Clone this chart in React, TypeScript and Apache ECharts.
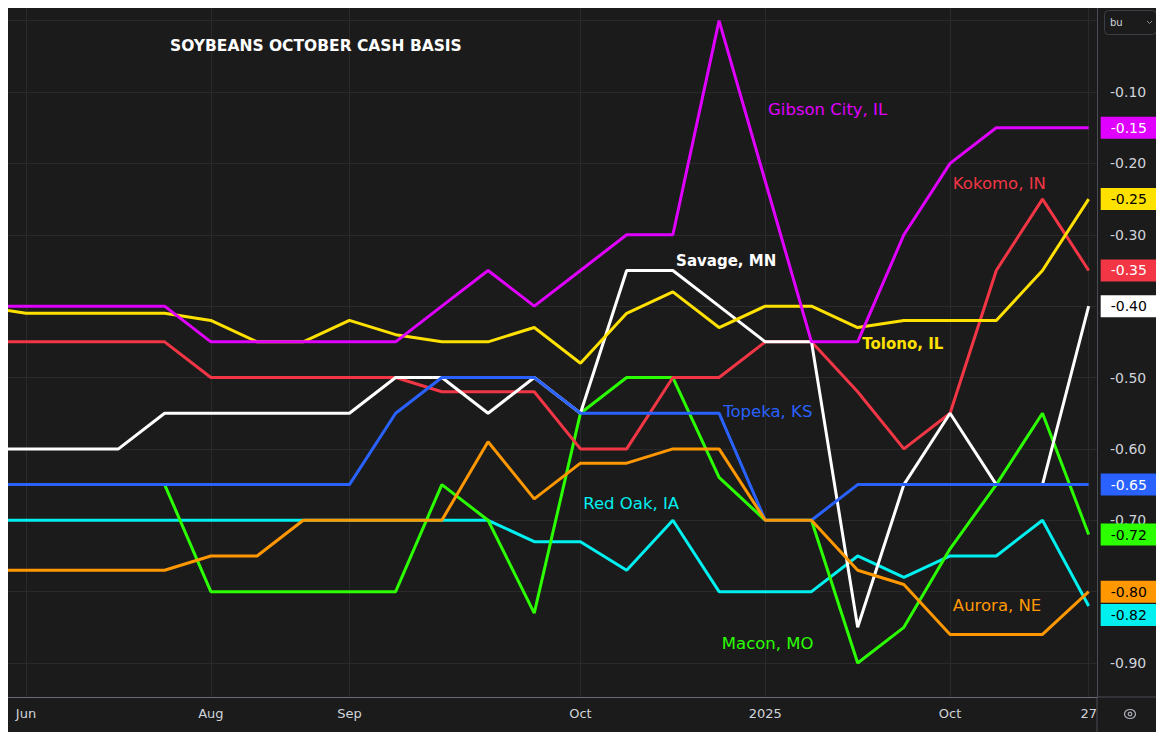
import React, { useEffect, useRef } from "react";
import * as echarts from "echarts";

// x positions (period index; -1 lies just left of the visible window)
const xIndex = [-1, 0, 1, 2, 3, 4, 5, 6, 7, 8, 9, 10, 11, 12, 13, 14, 15, 16, 17, 18, 19, 20, 21, 22, 23];
const xTickPos = [0, 4, 7, 12, 16, 20, 23];
const xTickText = ["Jun", "Aug", "Sep", "Oct", "2025", "Oct", "27"];
const yGridValues = [0, -0.1, -0.2, -0.3, -0.4, -0.5, -0.6, -0.7, -0.8, -0.9];
const yLabelValues = [-0.1, -0.2, -0.3, -0.4, -0.5, -0.6, -0.7, -0.8, -0.9];

const redOak = [-0.70, -0.70, -0.70, -0.70, -0.70, -0.70, -0.70, -0.70, -0.70, -0.70, -0.70, -0.70, -0.73, -0.73, -0.77, -0.70, -0.80, -0.80, -0.80, -0.75, -0.78, -0.75, -0.75, -0.70, -0.82];
const macon = [null, null, null, null, -0.65, -0.80, -0.80, -0.80, -0.80, -0.80, -0.65, -0.70, -0.83, -0.55, -0.50, -0.50, -0.64, -0.70, -0.70, -0.90, -0.85, -0.74, -0.65, -0.55, -0.72];
const kokomo = [-0.45, -0.45, -0.45, -0.45, -0.45, -0.50, -0.50, -0.50, -0.50, -0.50, -0.52, -0.52, -0.52, -0.60, -0.60, -0.50, -0.50, -0.45, -0.45, -0.52, -0.60, -0.55, -0.35, -0.25, -0.35];
const savage = [-0.60, -0.60, -0.60, -0.60, -0.55, -0.55, -0.55, -0.55, -0.55, -0.50, -0.50, -0.55, -0.50, -0.55, -0.35, -0.35, -0.40, -0.45, -0.45, -0.85, -0.65, -0.55, -0.65, -0.65, -0.40];
const topeka = [-0.65, -0.65, -0.65, -0.65, -0.65, -0.65, -0.65, -0.65, -0.65, -0.55, -0.50, -0.50, -0.50, -0.55, -0.55, -0.55, -0.55, -0.70, -0.70, -0.65, -0.65, -0.65, -0.65, -0.65, -0.65];
const tolono = [-0.40, -0.41, -0.41, -0.41, -0.41, -0.42, -0.45, -0.45, -0.42, -0.44, -0.45, -0.45, -0.43, -0.48, -0.41, -0.38, -0.43, -0.40, -0.40, -0.43, -0.42, -0.42, -0.42, -0.35, -0.25];
const gibson = [-0.40, -0.40, -0.40, -0.40, -0.40, -0.45, -0.45, -0.45, -0.45, -0.45, -0.40, -0.35, -0.40, -0.35, -0.30, -0.30, 0.00, -0.225, -0.45, -0.45, -0.30, -0.20, -0.15, -0.15, -0.15];
const aurora = [-0.77, -0.77, -0.77, -0.77, -0.77, -0.75, -0.75, -0.70, -0.70, -0.70, -0.70, -0.59, -0.67, -0.62, -0.62, -0.60, -0.60, -0.70, -0.70, -0.77, -0.79, -0.86, -0.86, -0.86, -0.80];

// name, values, line colour, box text colour, annotation anchor [x index, value], bold, box shift
const seriesDefs: any[] = [
  { name: "Red Oak, IA", values: redOak, color: "#00f0f0", boxText: "#000000", at: [12.06, -0.677], bold: false, shift: 9 },
  { name: "Macon, MO", values: macon, color: "#2bff00", boxText: "#000000", at: [15.06, -0.872], bold: false, shift: 0 },
  { name: "Kokomo, IN", values: kokomo, color: "#f23645", boxText: "#ffffff", at: [20.06, -0.2275], bold: false, shift: 0 },
  { name: "Savage, MN", values: savage, color: "#ffffff", boxText: "#000000", at: [14.07, -0.337], bold: true, shift: 0 },
  { name: "Topeka, KS", values: topeka, color: "#2962ff", boxText: "#ffffff", at: [15.09, -0.548], bold: false, shift: 0 },
  { name: "Tolono, IL", values: tolono, color: "#ffe100", boxText: "#000000", at: [18.1, -0.453], bold: true, shift: 0 },
  { name: "Gibson City, IL", values: gibson, color: "#e000ff", boxText: "#ffffff", at: [16.06, -0.125], bold: false, shift: 0 },
  { name: "Aurora, NE", values: aurora, color: "#ff9800", boxText: "#000000", at: [20.06, -0.819], bold: false, shift: 0 },
];

const FONT = "'DejaVu Sans', sans-serif";
const AXIS_TEXT = "#d1d4dc";

function buildSeries(d: any, k: number) {
  const lastIdx = d.values.length - 1;
  const lastVal = d.values[lastIdx];
  return {
    type: "line",
    name: d.name,
    data: xIndex.map((x, i) => [x, d.values[i]]),
    showSymbol: false,
    symbol: "none",
    clip: true,
    z: 2 + k * 0.01,
    lineStyle: { color: d.color, width: 3 },
    itemStyle: { color: d.color },
    emphasis: { disabled: true },
    markPoint: {
      symbol: "circle",
      symbolSize: 0,
      itemStyle: { color: "transparent" },
      silent: true,
      data: [
        {
          name: "annot",
          coord: d.at,
          value: d.name,
          label: {
            show: true,
            position: "right",
            distance: 0,
            formatter: d.name,
            color: d.color,
            fontSize: d.bold ? 15 : 16.5,
            fontFamily: FONT,
            fontWeight: d.bold ? "bold" : "normal",
          },
        },
        {
          name: "last",
          coord: [xIndex[lastIdx], lastVal],
          value: lastVal,
          label: {
            show: true,
            position: "right",
            distance: 12,
            offset: [0, d.shift],
            formatter: (p: any) => Number(p.value).toFixed(2),
            color: d.boxText,
            backgroundColor: d.color,
            padding: [3, 10, 3, 10],
            fontSize: 14,
            fontFamily: FONT,
            lineHeight: 16,
          },
        },
      ],
    },
  };
}

export default function App() {
  const ref = useRef<HTMLDivElement>(null);
  useEffect(() => {
    document.documentElement.style.overflow = "hidden";
    const chart = echarts.init(ref.current!, null, { renderer: "svg" });
    chart.setOption({
      animation: false,
      backgroundColor: "#1b1b1b",
      title: {
        text: "SOYBEANS OCTOBER CASH BASIS",
        left: 157,
        top: 25,
        textStyle: { color: "#ffffff", fontSize: 15.5, fontWeight: "bold", fontFamily: FONT },
      },
      grid: { left: 0, right: 67, top: 0, bottom: 35, containLabel: false },
      xAxis: {
        type: "value",
        min: -0.39,
        max: 23.18,
        axisLine: { show: true, onZero: false, lineStyle: { color: "#6a6d78", width: 1 } },
        axisTick: { show: false, customValues: xTickPos },
        axisLabel: {
          customValues: xTickPos,
          formatter: (v: number) => {
            const k = xTickPos.indexOf(Math.round(v));
            return k >= 0 ? xTickText[k] : "";
          },
          color: AXIS_TEXT,
          fontSize: 13,
          fontFamily: FONT,
          margin: 10,
        },
        splitLine: { show: true, lineStyle: { color: "#2a2a2a", width: 1 } },
      },
      yAxis: {
        type: "value",
        position: "right",
        min: -0.9476,
        max: 0.0177,
        axisLine: { show: true, onZero: false, lineStyle: { color: "#4a4c55", width: 1 } },
        axisTick: { show: false, customValues: yGridValues },
        axisLabel: {
          customValues: yLabelValues,
          formatter: (v: number) => v.toFixed(2),
          color: AXIS_TEXT,
          fontSize: 14,
          fontFamily: FONT,
          margin: 13,
        },
        splitLine: { show: true, lineStyle: { color: "#2a2a2a", width: 1 } },
      },
      series: seriesDefs.map(buildSeries),
      graphic: [
        { type: "line", shape: { x1: 1089, y1: 689, x2: 1089, y2: 724 }, style: { stroke: "#4a4c55", lineWidth: 1 } },
        { type: "line", shape: { x1: 1089, y1: 689, x2: 1156, y2: 689 }, style: { stroke: "#4a4c55", lineWidth: 1 } },
        { type: "rect", shape: { x: 1096.5, y: 2.5, width: 52, height: 24, r: 4 }, style: { fill: "#1b1b1b", stroke: "#3c3e46", lineWidth: 1 } },
        { type: "text", x: 1102, y: 9, style: { text: "bu", fill: AXIS_TEXT, fontSize: 10, fontFamily: FONT } },
        { type: "polyline", shape: { points: [[1139, 13], [1141.5, 15.5], [1144, 13]] }, style: { stroke: "#8a8d96", lineWidth: 1, fill: "none" } },
        { type: "ellipse", shape: { cx: 1122, cy: 706, rx: 5.5, ry: 4.5 }, style: { fill: "none", stroke: "#b0b3bb", lineWidth: 1.2 } },
        { type: "circle", shape: { cx: 1122, cy: 706, r: 1.8 }, style: { fill: "none", stroke: "#b0b3bb", lineWidth: 1.2 } },
      ],
    });
    return () => chart.dispose();
  }, []);
  return <div ref={ref} style={{ width: 1156, height: 724 }} />;
}
